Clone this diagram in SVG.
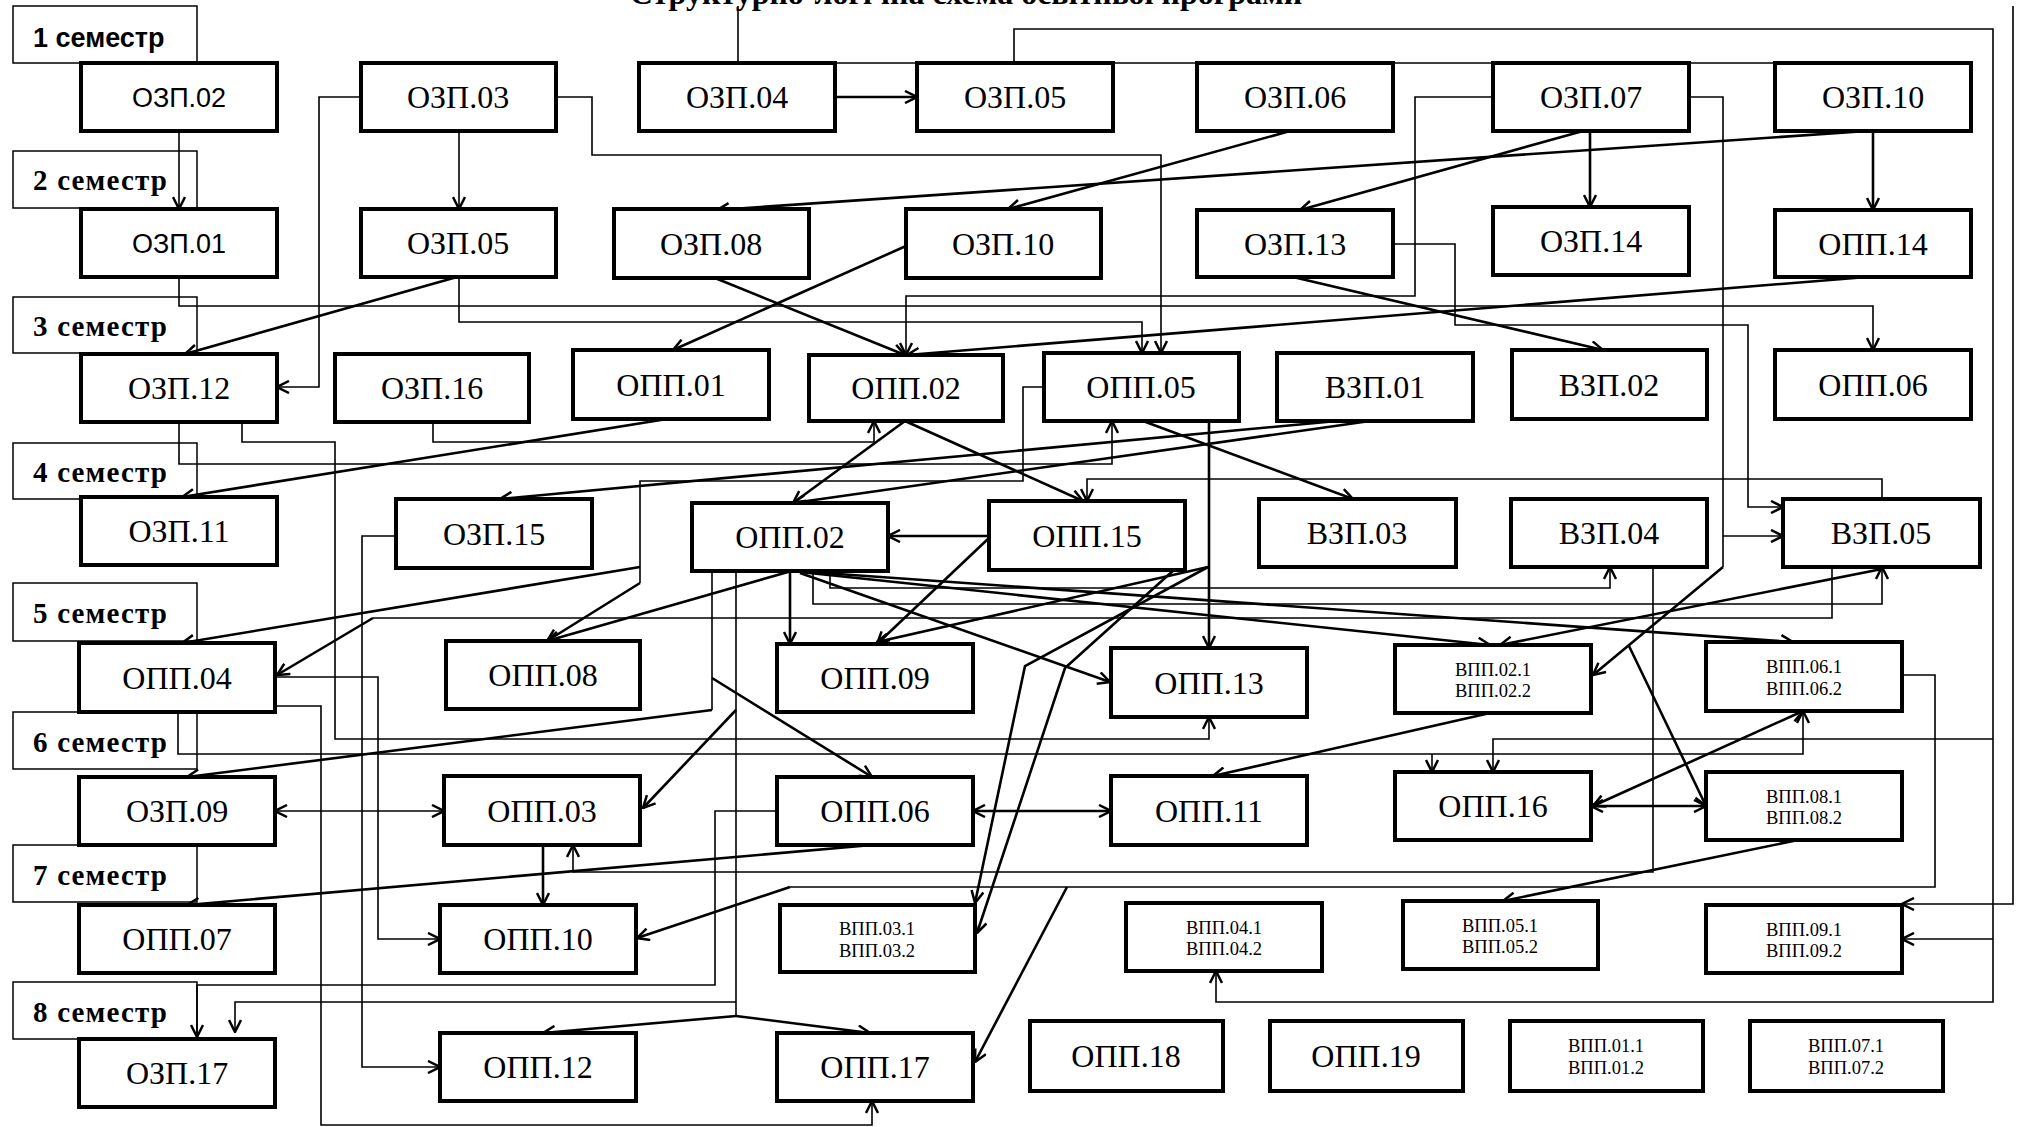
<svg xmlns="http://www.w3.org/2000/svg" width="2019" height="1127" viewBox="0 0 2019 1127">
<defs>
<marker id="a" viewBox="0 0 14 14" refX="13" refY="7" markerWidth="14" markerHeight="14" markerUnits="userSpaceOnUse" orient="auto-start-reverse"><path d="M1,1 L13,7 L1,13" fill="none" stroke="#000" stroke-width="2.5"/></marker>
</defs>
<style>
.n rect{fill:#fff;stroke:#000;stroke-width:4}
.s rect{fill:#fff;stroke:#000;stroke-width:1.5}
.n text{font-family:"Liberation Serif",serif;font-size:32px;text-anchor:middle;fill:#000}
.n text.sm{font-size:18.5px}
.n text.sa{font-family:"Liberation Sans",sans-serif;font-size:27px}
.s text{font-family:"Liberation Serif",serif;font-size:29px;font-weight:bold;fill:#000}
.s text.sa{font-family:"Liberation Sans",sans-serif;font-size:27px}
.t{fill:none;stroke:#000;stroke-width:1.6}
.k{fill:none;stroke:#000;stroke-width:2.6}
.e{marker-end:url(#a)}
.b{marker-start:url(#a);marker-end:url(#a)}
.title{font-family:"Liberation Serif",serif;font-size:32px;font-weight:bold;text-anchor:middle}
</style>
<rect width="2019" height="1127" fill="#fff"/>
<text class="title" x="966" y="4">Структурно-логічна схема освітньої програми</text>
<g id="semesters">
<g id="sem1" class="s"><rect x="13" y="6" width="184" height="57"/><text class="sa" x="33" y="47">1 семестр</text></g>
<g id="sem2" class="s"><rect x="13" y="151" width="184" height="57"/><text x="33" y="190" textLength="134" lengthAdjust="spacing">2 семестр</text></g>
<g id="sem3" class="s"><rect x="13" y="297" width="184" height="56"/><text x="33" y="336" textLength="134" lengthAdjust="spacing">3 семестр</text></g>
<g id="sem4" class="s"><rect x="13" y="443" width="184" height="56"/><text x="33" y="482" textLength="134" lengthAdjust="spacing">4 семестр</text></g>
<g id="sem5" class="s"><rect x="13" y="583" width="184" height="58"/><text x="33" y="623" textLength="134" lengthAdjust="spacing">5 семестр</text></g>
<g id="sem6" class="s"><rect x="13" y="712" width="184" height="57"/><text x="33" y="752" textLength="134" lengthAdjust="spacing">6 семестр</text></g>
<g id="sem7" class="s"><rect x="13" y="845" width="184" height="57"/><text x="33" y="885" textLength="134" lengthAdjust="spacing">7 семестр</text></g>
<g id="sem8" class="s"><rect x="13" y="982" width="184" height="57"/><text x="33" y="1022" textLength="134" lengthAdjust="spacing">8 семестр</text></g>
</g>
<g id="connectors">
<path class="t e" d="M179,131 V209"/>
<path class="t e" d="M459,131 V209"/>
<path class="t e" d="M361,97 H319 V387 H277"/>
<path class="t e" d="M556,97 H592 V155 H1161 V353"/>
<path class="t" d="M738,63 V6"/>
<path class="k e" d="M835,97 H917"/>
<path class="t" d="M835,63 H1775"/>
<path class="t e" d="M1014,63 V29 H1993 V1002 H1216 V971"/>
<path class="t e" d="M1993,939 H1902"/>
<path class="t e" d="M2013,6 V904 H1902"/>
<path class="t e" d="M1993,739 H1493 V772"/>
<path class="k e" d="M1290,131 L1008,209"/>
<path class="k e" d="M1867,131 L717,210"/>
<path class="k e" d="M1583,131 L1300,210"/>
<path class="k e" d="M1590,131 V207"/>
<path class="k e" d="M1873,131 V210"/>
<path class="t e" d="M1493,97 H1415 V296 H906 V355"/>
<path class="t" d="M1689,97 H1723 V567"/>
<path class="k e" d="M1723,567 L1593,675"/>
<path class="t e" d="M1723,536 H1783"/>
<path class="t e" d="M1393,244 H1455 V325 H1748 V507 H1783"/>
<path class="k e" d="M1293,277 L1603,350"/>
<path class="k e" d="M1867,277 L907,355"/>
<path class="t e" d="M179,277 V306 H1873 V350"/>
<path class="t e" d="M459,276 V322 H1142 V353"/>
<path class="k e" d="M457,277 L185,354"/>
<path class="k e" d="M715,278 L905,355"/>
<path class="k e" d="M906,246 L673,350"/>
<path class="t e" d="M179,422 V464 H1112 V421"/>
<path class="t e" d="M242,422 V442 H335 V739 H1209 V717"/>
<path class="t e" d="M433,422 V442 H874 V421"/>
<path class="k e" d="M667,419 L182,497"/>
<path class="k e" d="M1337,421 L500,499"/>
<path class="k e" d="M1370,421 L793,503"/>
<path class="k e" d="M905,421 L793,503"/>
<path class="k e" d="M905,421 L1083,501"/>
<path class="k e" d="M1143,421 L1353,499"/>
<path class="k e" d="M1209,421 V648"/>
<path class="t" d="M1044,387 H1023 V481 H640 V583"/>
<path class="k e" d="M640,583 L547,641"/>
<path class="k e" d="M640,567 L182,643"/>
<path class="k e" d="M989,536 H888"/>
<path class="k e" d="M989,538 L877,644"/>
<path class="k e" d="M788,572 L547,641"/>
<path class="k e" d="M790,572 V644"/>
<path class="k e" d="M800,573 L1110,682"/>
<path class="k e" d="M800,572 L1490,645"/>
<path class="k e" d="M810,572 L1793,642"/>
<path class="t e" d="M830,571 V588 H1610 V567"/>
<path class="t e" d="M813,571 V604 H1882 V567"/>
<path class="t" d="M712,571 V710"/>
<path class="k e" d="M712,710 L187,777"/>
<path class="k e" d="M712,678 L872,777"/>
<path class="t" d="M736,571 V1016"/>
<path class="k e" d="M736,710 L643,808"/>
<path class="k e" d="M736,1016 L543,1033"/>
<path class="k e" d="M736,1016 L870,1033"/>
<path class="t e" d="M736,1002 H235 V1032"/>
<path class="t e" d="M275,677 H378 V939 H440"/>
<path class="t e" d="M275,706 H321 V1125 H872 V1101"/>
<path class="t e" d="M178,712 V754 H1803 V711"/>
<path class="t e" d="M1432,754 V772"/>
<path class="t e" d="M396,536 H362 V1067 H440"/>
<path class="t b" d="M275,811 H444"/>
<path class="k e" d="M543,845 V905"/>
<path class="t e" d="M1653,567 V872 H573 V845"/>
<path class="k e" d="M872,845 L187,905"/>
<path class="t e" d="M777,811 H715 V985 H197 V1037"/>
<path class="k b" d="M973,811 H1111"/>
<path class="k e" d="M1490,713 L1213,776"/>
<path class="k b" d="M1591,806 H1706"/>
<path class="k b" d="M1803,711 L1593,806"/>
<path class="t e" d="M1882,499 V479 H1087 V501"/>
<path class="t" d="M1832,567 V618 H373"/>
<path class="k e" d="M373,618 L277,675"/>
<path class="k e" d="M1882,569 L1500,645"/>
<path class="k e" d="M1629,646 L1706,806"/>
<path class="t" d="M1902,675 H1935 V887 H790"/>
<path class="k e" d="M790,887 L637,938"/>
<path class="k e" d="M1067,887 L975,1062"/>
<path class="k e" d="M1798,840 L1503,901"/>
<path class="k e" d="M1208,567 L1025,666 L975,903"/>
<path class="k e" d="M1208,567 L877,642"/>
<path class="k e" d="M1185,560 L1065,668 L977,933"/>
</g>
<g id="nodes">
<g id="ozp02" class="n"><rect x="81" y="63" width="196" height="68"/><text class="sa" x="179" y="107">ОЗП.02</text></g>
<g id="ozp03" class="n"><rect x="361" y="63" width="195" height="68"/><text x="458" y="108">ОЗП.03</text></g>
<g id="ozp04" class="n"><rect x="639" y="63" width="196" height="68"/><text x="737" y="108">ОЗП.04</text></g>
<g id="ozp05a" class="n"><rect x="917" y="63" width="196" height="68"/><text x="1015" y="108">ОЗП.05</text></g>
<g id="ozp06" class="n"><rect x="1197" y="63" width="196" height="68"/><text x="1295" y="108">ОЗП.06</text></g>
<g id="ozp07" class="n"><rect x="1493" y="63" width="196" height="68"/><text x="1591" y="108">ОЗП.07</text></g>
<g id="ozp10a" class="n"><rect x="1775" y="63" width="196" height="68"/><text x="1873" y="108">ОЗП.10</text></g>
<g id="ozp01" class="n"><rect x="81" y="209" width="196" height="68"/><text class="sa" x="179" y="253">ОЗП.01</text></g>
<g id="ozp05b" class="n"><rect x="361" y="209" width="195" height="68"/><text x="458" y="254">ОЗП.05</text></g>
<g id="ozp08" class="n"><rect x="614" y="209" width="195" height="69"/><text x="711" y="255">ОЗП.08</text></g>
<g id="ozp10b" class="n"><rect x="906" y="209" width="195" height="69"/><text x="1003" y="255">ОЗП.10</text></g>
<g id="ozp13" class="n"><rect x="1197" y="210" width="196" height="67"/><text x="1295" y="255">ОЗП.13</text></g>
<g id="ozp14" class="n"><rect x="1493" y="207" width="196" height="68"/><text x="1591" y="252">ОЗП.14</text></g>
<g id="opp14" class="n"><rect x="1775" y="210" width="196" height="67"/><text x="1873" y="255">ОПП.14</text></g>
<g id="ozp12" class="n"><rect x="81" y="354" width="196" height="68"/><text x="179" y="399">ОЗП.12</text></g>
<g id="ozp16" class="n"><rect x="335" y="354" width="194" height="68"/><text x="432" y="399">ОЗП.16</text></g>
<g id="opp01" class="n"><rect x="573" y="350" width="196" height="69"/><text x="671" y="396">ОПП.01</text></g>
<g id="opp02a" class="n"><rect x="809" y="355" width="194" height="66"/><text x="906" y="399">ОПП.02</text></g>
<g id="opp05" class="n"><rect x="1044" y="353" width="195" height="68"/><text x="1141" y="398">ОПП.05</text></g>
<g id="vzp01" class="n"><rect x="1277" y="353" width="196" height="68"/><text x="1375" y="398">ВЗП.01</text></g>
<g id="vzp02" class="n"><rect x="1512" y="350" width="195" height="69"/><text x="1609" y="396">ВЗП.02</text></g>
<g id="opp06" class="n"><rect x="1775" y="350" width="196" height="69"/><text x="1873" y="396">ОПП.06</text></g>
<g id="ozp11" class="n"><rect x="81" y="497" width="196" height="68"/><text x="179" y="542">ОЗП.11</text></g>
<g id="ozp15" class="n"><rect x="396" y="499" width="196" height="69"/><text x="494" y="545">ОЗП.15</text></g>
<g id="opp02b" class="n"><rect x="692" y="503" width="196" height="68"/><text x="790" y="548">ОПП.02</text></g>
<g id="opp15" class="n"><rect x="989" y="501" width="196" height="69"/><text x="1087" y="547">ОПП.15</text></g>
<g id="vzp03" class="n"><rect x="1259" y="499" width="197" height="68"/><text x="1357" y="544">ВЗП.03</text></g>
<g id="vzp04" class="n"><rect x="1511" y="499" width="196" height="68"/><text x="1609" y="544">ВЗП.04</text></g>
<g id="vzp05" class="n"><rect x="1783" y="499" width="197" height="68"/><text x="1881" y="544">ВЗП.05</text></g>
<g id="opp04" class="n"><rect x="79" y="643" width="196" height="69"/><text x="177" y="689">ОПП.04</text></g>
<g id="opp08" class="n"><rect x="446" y="641" width="194" height="68"/><text x="543" y="686">ОПП.08</text></g>
<g id="opp09" class="n"><rect x="777" y="644" width="196" height="68"/><text x="875" y="689">ОПП.09</text></g>
<g id="opp13" class="n"><rect x="1111" y="648" width="196" height="69"/><text x="1209" y="694">ОПП.13</text></g>
<g id="vpp02" class="n"><rect x="1395" y="645" width="196" height="68"/><text class="sm" x="1493" y="676">ВПП.02.1</text><text class="sm" x="1493" y="697">ВПП.02.2</text></g>
<g id="vpp06" class="n"><rect x="1706" y="642" width="196" height="69"/><text class="sm" x="1804" y="673">ВПП.06.1</text><text class="sm" x="1804" y="695">ВПП.06.2</text></g>
<g id="ozp09" class="n"><rect x="79" y="777" width="196" height="68"/><text x="177" y="822">ОЗП.09</text></g>
<g id="opp03" class="n"><rect x="444" y="776" width="196" height="69"/><text x="542" y="822">ОПП.03</text></g>
<g id="opp06b" class="n"><rect x="777" y="777" width="196" height="68"/><text x="875" y="822">ОПП.06</text></g>
<g id="opp11" class="n"><rect x="1111" y="776" width="196" height="69"/><text x="1209" y="822">ОПП.11</text></g>
<g id="opp16" class="n"><rect x="1395" y="772" width="196" height="68"/><text x="1493" y="817">ОПП.16</text></g>
<g id="vpp08" class="n"><rect x="1706" y="772" width="196" height="68"/><text class="sm" x="1804" y="803">ВПП.08.1</text><text class="sm" x="1804" y="824">ВПП.08.2</text></g>
<g id="opp07" class="n"><rect x="79" y="905" width="196" height="68"/><text x="177" y="950">ОПП.07</text></g>
<g id="opp10" class="n"><rect x="440" y="905" width="196" height="68"/><text x="538" y="950">ОПП.10</text></g>
<g id="vpp03" class="n"><rect x="780" y="905" width="195" height="67"/><text class="sm" x="877" y="935">ВПП.03.1</text><text class="sm" x="877" y="957">ВПП.03.2</text></g>
<g id="vpp04" class="n"><rect x="1126" y="903" width="196" height="68"/><text class="sm" x="1224" y="934">ВПП.04.1</text><text class="sm" x="1224" y="955">ВПП.04.2</text></g>
<g id="vpp05" class="n"><rect x="1403" y="901" width="195" height="68"/><text class="sm" x="1500" y="932">ВПП.05.1</text><text class="sm" x="1500" y="953">ВПП.05.2</text></g>
<g id="vpp09" class="n"><rect x="1706" y="905" width="196" height="68"/><text class="sm" x="1804" y="936">ВПП.09.1</text><text class="sm" x="1804" y="957">ВПП.09.2</text></g>
<g id="ozp17" class="n"><rect x="79" y="1039" width="196" height="68"/><text x="177" y="1084">ОЗП.17</text></g>
<g id="opp12" class="n"><rect x="440" y="1033" width="196" height="68"/><text x="538" y="1078">ОПП.12</text></g>
<g id="opp17" class="n"><rect x="777" y="1033" width="196" height="68"/><text x="875" y="1078">ОПП.17</text></g>
<g id="opp18" class="n"><rect x="1030" y="1021" width="193" height="70"/><text x="1126" y="1067">ОПП.18</text></g>
<g id="opp19" class="n"><rect x="1270" y="1021" width="193" height="70"/><text x="1366" y="1067">ОПП.19</text></g>
<g id="vpp01" class="n"><rect x="1510" y="1021" width="193" height="70"/><text class="sm" x="1606" y="1052">ВПП.01.1</text><text class="sm" x="1606" y="1074">ВПП.01.2</text></g>
<g id="vpp07" class="n"><rect x="1750" y="1021" width="193" height="70"/><text class="sm" x="1846" y="1052">ВПП.07.1</text><text class="sm" x="1846" y="1074">ВПП.07.2</text></g>
</g>
</svg>
